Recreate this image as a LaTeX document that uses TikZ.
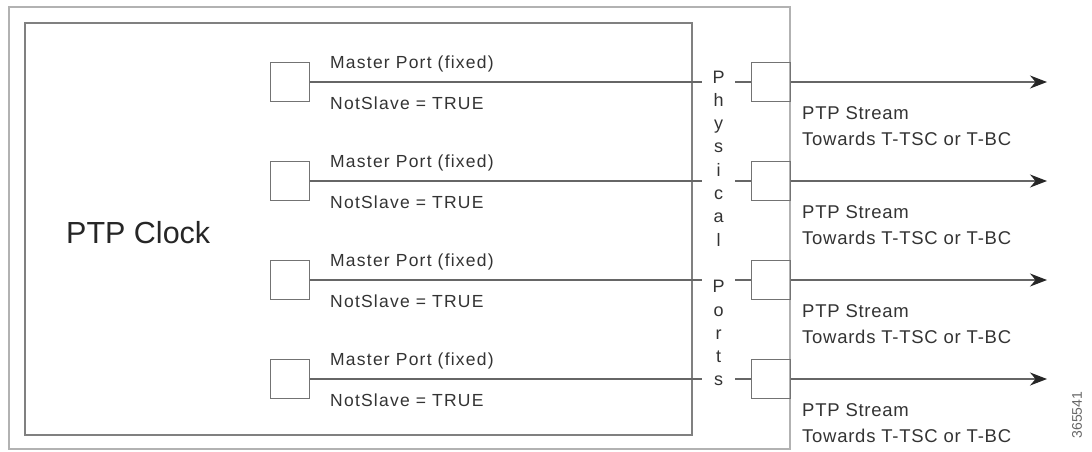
\documentclass[tikz,border=0pt]{standalone}
\usepackage{fontspec}
\setmainfont{Liberation Sans}
\newfontfamily\portfont[LetterSpace=7]{Liberation Sans}
\newfontfamily\streamfont[LetterSpace=4]{Liberation Sans}
\usetikzlibrary{arrows.meta}

\tikzset{
  portbox/.style={draw=black!55, line width=1pt, minimum size=39pt, inner sep=0pt},
  portlbl/.style={anchor=base west, inner sep=0pt, text=black!80,
                  font=\portfont\fontsize{17.5}{21}\selectfont},
  streamlbl/.style={anchor=north west, inner sep=0pt, text=black!80, align=left,
                    font=\streamfont\fontsize{18.5}{26}\selectfont},
  link/.style={draw=black!60, line width=1.2pt},
  outlink/.style={link, -{Stealth[length=17pt, width=13pt, black!85]}},
  letters/.style={anchor=north, fill=white, inner ysep=2pt, inner xsep=0pt,
                  minimum width=33pt, align=center, text=black!80,
                  font=\fontsize{18}{23.3}\selectfont},
}

\begin{document}
\begin{tikzpicture}[x=1pt, y=-1pt]
      \useasboundingbox (0,0) rectangle (1092,451);
      \draw [black!30, line width=1.2pt] (9,7) rectangle (790,449);
      \draw [black!50, line width=1.2pt] (25,23) rectangle (692,435);
      \node (clock) [anchor=base west, inner sep=0pt, text=black!85,
                     font=\fontsize{30.5}{36}\selectfont] at (66,243) {PTP Clock};

      % master ports
      \node (m1) [portbox] at (290,82) {};
      \node (m2) [portbox] at (290,181) {};
      \node (m3) [portbox] at (290,280) {};
      \node (m4) [portbox] at (290,379) {};
      \node (p1) [portbox] at (770.5,82) {};
      \node (p2) [portbox] at (770.5,181) {};
      \node (p3) [portbox] at (770.5,280) {};
      \node (p4) [portbox] at (770.5,379) {};
      \coordinate (o1) at (1047,82);
      \coordinate (o2) at (1047,181);
      \coordinate (o3) at (1047,280);
      \coordinate (o4) at (1047,379);

      \node (mp1) [portlbl] at (330,68) {Master Port (fixed)};
      \node (ns1) [portlbl] at (330,109) {NotSlave = TRUE};
      \node (mp2) [portlbl] at (330,167) {Master Port (fixed)};
      \node (ns2) [portlbl] at (330,208) {NotSlave = TRUE};
      \node (mp3) [portlbl] at (330,266) {Master Port (fixed)};
      \node (ns3) [portlbl] at (330,307) {NotSlave = TRUE};
      \node (mp4) [portlbl] at (330,365) {Master Port (fixed)};
      \node (ns4) [portlbl] at (330,406) {NotSlave = TRUE};

      \draw [link] (m1) -- (p1)  (m2) -- (p2)  (m3) -- (p3)  (m4) -- (p4);
      \draw [outlink] (p1) -- (o1);
      \draw [outlink] (p2) -- (o2);
      \draw [outlink] (p3) -- (o3);
      \draw [outlink] (p4) -- (o4);

      \node (phys) [letters] at (718.5,68.5)
            {P\\h\\y\\s\\i\\c\\a\\l\\\mbox{}\\P\\o\\r\\t\\s};

      \node (st1) [streamlbl] at (802,106.7) {PTP Stream\\Towards T-TSC or T-BC};
      \node (st2) [streamlbl] at (802,205.7) {PTP Stream\\Towards T-TSC or T-BC};
      \node (st3) [streamlbl] at (802,304.7) {PTP Stream\\Towards T-TSC or T-BC};
      \node (st4) [streamlbl] at (802,403.7) {PTP Stream\\Towards T-TSC or T-BC};

      \node (fig) [rotate=90, text=black!60, font=\fontsize{14}{16}\selectfont]
            at (1077,415) {365541};
\end{tikzpicture}
\end{document}
